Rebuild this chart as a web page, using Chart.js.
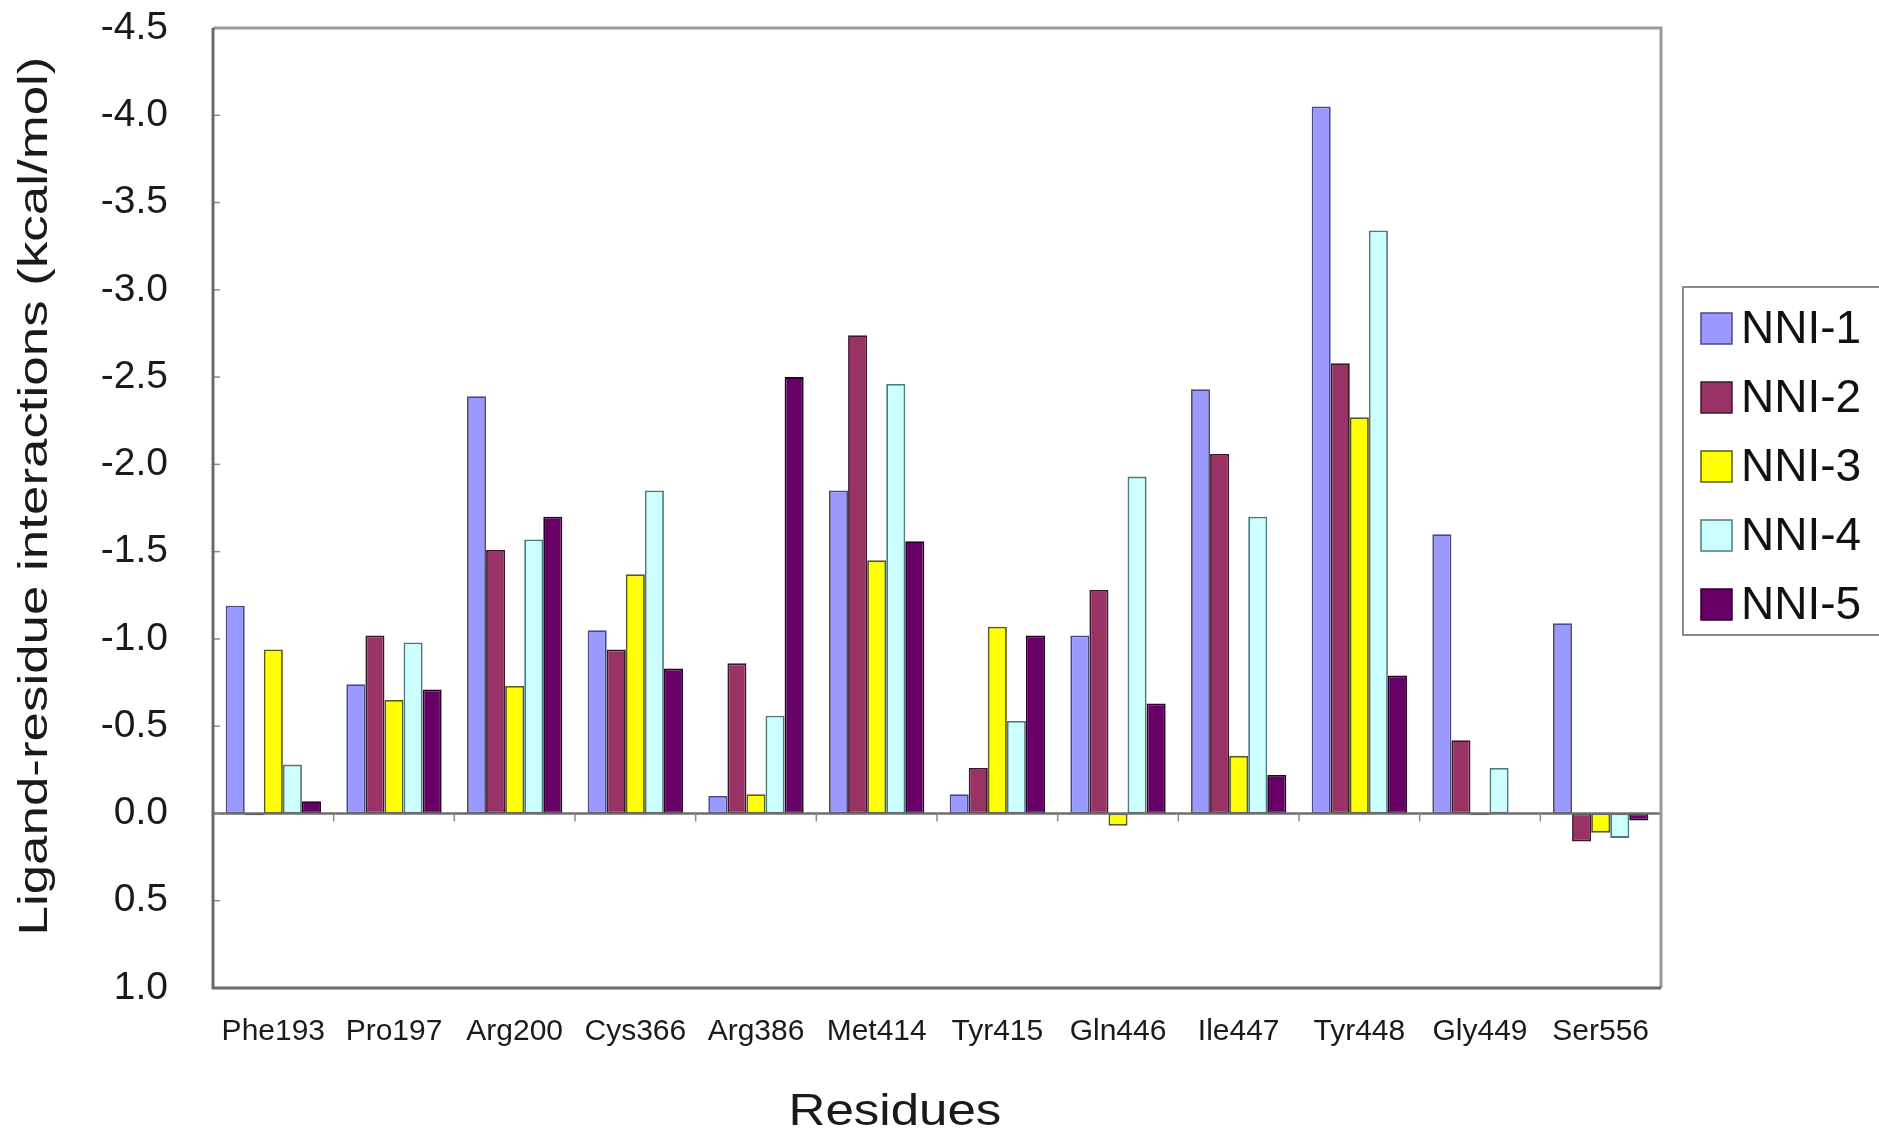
<!DOCTYPE html>
<html>
<head>
<meta charset="utf-8">
<title>Ligand-residue interactions</title>
<script src="https://cdn.jsdelivr.net/npm/chart.js@4.4.1/dist/chart.umd.min.js"></script>
<style>
  html, body { margin: 0; padding: 0; background: #ffffff; }
  #wrap { width: 1879px; height: 1131px; }
</style>
</head>
<body>
<div id="wrap"><canvas id="chart" width="1879" height="1131"></canvas></div>
<script>
// Residues along the x axis
const residues = ['Phe193', 'Pro197', 'Arg200', 'Cys366', 'Arg386', 'Met414',
                  'Tyr415', 'Gln446', 'Ile447', 'Tyr448', 'Gly449', 'Ser556'];

// Interaction energies per ligand (kcal/mol)
const nni1 = [-1.19, -0.74, -2.39, -1.05, -0.10, -1.85, -0.11, -1.02, -2.43, -4.05, -1.60, -1.09];
const nni2 = [ 0.01, -1.02, -1.51, -0.94, -0.86, -2.74, -0.26, -1.28, -2.06, -2.58, -0.42,  0.16];
const nni3 = [-0.94, -0.65, -0.73, -1.37, -0.11, -1.45, -1.07,  0.07, -0.33, -2.27,  0.01,  0.11];
const nni4 = [-0.28, -0.98, -1.57, -1.85, -0.56, -2.46, -0.53, -1.93, -1.70, -3.34, -0.26,  0.14];
const nni5 = [-0.07, -0.71, -1.70, -0.83, -2.50, -1.56, -1.02, -0.63, -0.22, -0.79,  0.00,  0.04];

const seriesNames = ['NNI-1', 'NNI-2', 'NNI-3', 'NNI-4', 'NNI-5'];
const seriesColors = ['#9999ff', '#993366', '#ffff00', '#ccffff', '#660066'];
const seriesBorders = ['#4a4a80', '#3a1a2a', '#5a5a20', '#4f7a7a', '#2a002a'];

// y axis range and step
const yMin = -4.5, yMax = 1.0, yStep = 0.5;

const FONT = '"Liberation Sans", Arial, Helvetica, sans-serif';

const seriesValues = [nni1, nni2, nni3, nni4, nni5];
const datasets = seriesNames.map((name, i) => ({
  label: name,
  data: seriesValues[i],
  backgroundColor: seriesColors[i],
  borderColor: seriesBorders[i],
  borderWidth: 1.8,
  borderSkipped: false,
  categoryPercentage: 0.79,
  barPercentage: 1.0
}));

// Frame, zero line, tick marks, axis titles and the boxed legend
const decorations = {
  id: 'decorations',
  afterDatasetsDraw(chart) {
    const { ctx, chartArea: a, scales: { x, y } } = chart;
    ctx.save();

    // zero line with category separators below it
    const y0 = y.getPixelForValue(0);
    ctx.strokeStyle = '#6e6e6e';
    ctx.lineWidth = 2.5;
    ctx.beginPath();
    ctx.moveTo(a.left, y0);
    ctx.lineTo(a.right, y0);
    ctx.stroke();
    const half = (x.getPixelForValue(1) - x.getPixelForValue(0)) / 2;
    ctx.lineWidth = 1.5;
    ctx.strokeStyle = '#8a8a8a';
    for (let i = 0; i <= residues.length; i++) {
      const px = x.getPixelForValue(i) - half;
      ctx.beginPath();
      ctx.moveTo(px, y0);
      ctx.lineTo(px, y0 + 8);
      ctx.stroke();
    }

    // inward ticks on the value axis
    for (let v = yMin; v <= yMax + 1e-9; v += yStep) {
      const py = y.getPixelForValue(v);
      ctx.beginPath();
      ctx.moveTo(a.left, py);
      ctx.lineTo(a.left + 7, py);
      ctx.stroke();
    }

    // plot frame
    ctx.lineWidth = 3;
    ctx.strokeStyle = '#9a9a9a';
    ctx.beginPath();
    ctx.moveTo(a.left, a.top);
    ctx.lineTo(a.right, a.top);
    ctx.lineTo(a.right, a.bottom);
    ctx.stroke();
    ctx.strokeStyle = '#6a6a6a';
    ctx.beginPath();
    ctx.moveTo(a.left, a.top);
    ctx.lineTo(a.left, a.bottom);
    ctx.lineTo(a.right, a.bottom);
    ctx.stroke();

    // axis titles
    ctx.fillStyle = '#1a1a1a';
    ctx.textAlign = 'center';
    ctx.textBaseline = 'middle';
    ctx.font = '41px ' + FONT;
    ctx.save();
    ctx.translate(36, 496);
    ctx.rotate(-Math.PI / 2);
    ctx.scale(1.29, 1);
    ctx.fillText('Ligand-residue interactions (kcal/mol)', 0, 0);
    ctx.restore();

    ctx.save();
    ctx.translate(895, 1113);
    ctx.scale(1.16, 1);
    ctx.font = '44px ' + FONT;
    ctx.fillText('Residues', 0, 0);
    ctx.restore();

    // legend box
    const lx = 1683, ly = 287, lh = 348;
    ctx.fillStyle = '#ffffff';
    ctx.fillRect(lx, ly, 1879 - lx + 5, lh);
    ctx.strokeStyle = '#8a8a8a';
    ctx.lineWidth = 2;
    ctx.strokeRect(lx, ly, 1879 - lx + 5, lh);
    ctx.font = '46px ' + FONT;
    ctx.textAlign = 'left';
    ctx.textBaseline = 'middle';
    chart.data.datasets.forEach((ds, i) => {
      const cy = 328 + i * 69;
      ctx.fillStyle = ds.backgroundColor;
      ctx.fillRect(1701, cy - 15, 31, 31);
      ctx.strokeStyle = ds.borderColor;
      ctx.lineWidth = 1.5;
      ctx.strokeRect(1701, cy - 15, 31, 31);
      ctx.fillStyle = '#111111';
      ctx.fillText(ds.label, 1741, cy + 2);
    });

    ctx.restore();
  }
};

new Chart(document.getElementById('chart'), {
  type: 'bar',
  data: { labels: residues, datasets },
  options: {
    responsive: false,
    animation: false,
    devicePixelRatio: 1,
    layout: { padding: { left: 0, top: 28, right: 218, bottom: 0 } },
    plugins: {
      legend: { display: false },
      tooltip: { enabled: false },
      title: { display: false }
    },
    scales: {
      x: {
        grid: { display: false, drawTicks: false },
        border: { display: false },
        ticks: {
          font: { family: FONT, size: 30 },
          color: '#1a1a1a',
          padding: 26,
          maxRotation: 0,
          autoSkip: false
        },
        afterFit(scale) {
          scale.height = 143;
          scale.paddingLeft = 0;
          scale.paddingRight = 0;
        }
      },
      y: {
        reverse: true,
        min: yMin,
        max: yMax,
        grid: { display: false, drawTicks: false },
        border: { display: false },
        ticks: {
          stepSize: yStep,
          font: { family: FONT, size: 39 },
          color: '#1a1a1a',
          padding: 45,
          callback: (v) => Number(v).toFixed(1)
        },
        afterFit(scale) {
          scale.width = 213;
          scale.paddingTop = 0;
          scale.paddingBottom = 0;
        }
      }
    }
  },
  plugins: [decorations]
});
</script>
</body>
</html>
